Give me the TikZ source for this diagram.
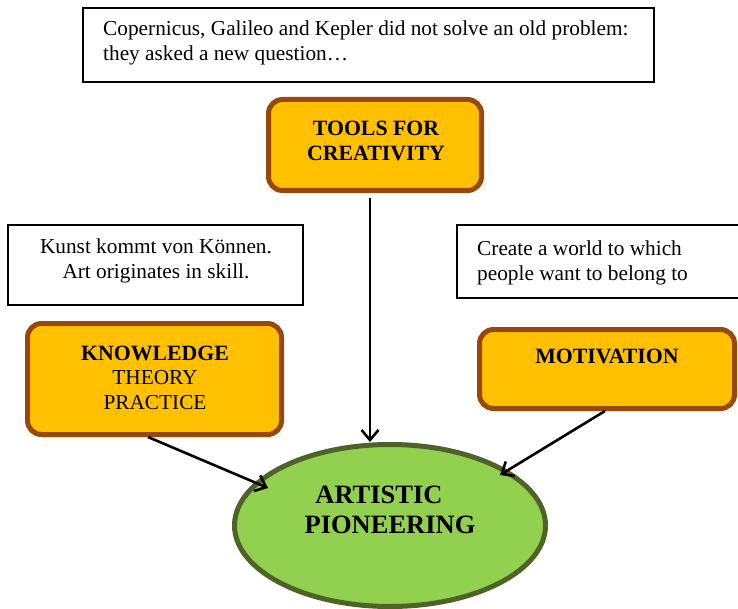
\documentclass[tikz,border=0pt]{standalone}
\usepackage{fontspec}
\setmainfont{Liberation Serif}
\usetikzlibrary{arrows.meta,shapes.geometric,calc}
\definecolor{boxfill}{HTML}{FFC000}
\definecolor{boxline}{HTML}{984807}
\definecolor{ellfill}{HTML}{92D050}
\definecolor{ellline}{HTML}{4F6228}
\begin{document}
\begin{tikzpicture}[x=1pt,y=-1pt,
  note/.style={draw=black,line width=1.2pt,fill=white,inner sep=0pt},
  keybox/.style={draw=boxline,fill=boxfill,line width=5pt,rounded corners=14pt,inner sep=0pt},
  txt/.style={font=\fontsize{21.3}{24.5}\selectfont,inner sep=0pt,align=center},
  boldtxt/.style={txt,font=\fontsize{21.8}{24.5}\selectfont\bfseries},
  bigtxt/.style={font=\fontsize{26.5}{30}\selectfont\bfseries,inner sep=0pt},
  arr/.style={draw=black,line width=2.6pt,-{Straight Barb[length=10pt,width=17pt,line width=2.6pt]}}]
\useasboundingbox (0,0) rectangle (738,609);

% quotation boxes
\node[note,minimum width=571pt,minimum height=74pt] (quote) at (368.5,45) {};
\node[txt,align=left,anchor=west] (quotetxt) at (103,43)
  {Copernicus, Galileo and Kepler did not solve an old problem:\\they asked a new question\ldots};

\node[note,minimum width=295pt,minimum height=80pt] (kunst) at (155.5,265) {};
\node[txt] (kunsttxt) at (156,261) {Kunst kommt von Können.\\Art originates in skill.};

\node[note,minimum width=282pt,minimum height=73pt] (world) at (598,261.5) {};
\node[txt,align=left,anchor=west] (worldtxt) at (477,263) {Create a world to which\\people want to belong to};

% key ideas
\node[keybox,minimum width=213pt,minimum height=91pt] (tools) at (375,145) {};
\node[boldtxt] (toolstxt) at (376,141) {TOOLS FOR\\CREATIVITY};

\node[keybox,minimum width=254pt,minimum height=111pt] (know) at (154.5,379) {};
\node[txt] (knowtxt) at (155,377.5) {{\fontsize{21.8}{24.5}\selectfont\bfseries KNOWLEDGE}\\THEORY\\PRACTICE};

\node[keybox,minimum width=255pt,minimum height=79pt] (motiv) at (607,369) {};
\node[boldtxt] (motivtxt) at (607,356) {MOTIVATION};

% central goal
\node[ellipse,draw=ellline,fill=ellfill,line width=5pt,minimum width=311pt,minimum height=162pt,inner sep=0pt] (goal) at (390,525.5) {};
\node[bigtxt] (goal1) at (379,495) {ARTISTIC};
\node[bigtxt] (goal2) at (390,525) {PIONEERING};

% connectors
\draw[arr] ([xshift=-5pt,yshift=-5pt]tools.south) -- ([xshift=-5pt]tools.south |- goal.north);
\draw[arr] ([xshift=-6.5pt]know.south) -- ($(goal.center)+(-122,-37.5)$);
\draw[arr] ([xshift=-2pt]motiv.south) -- ($(goal.center)+(110,-50.5)$);
\end{tikzpicture}
\end{document}
